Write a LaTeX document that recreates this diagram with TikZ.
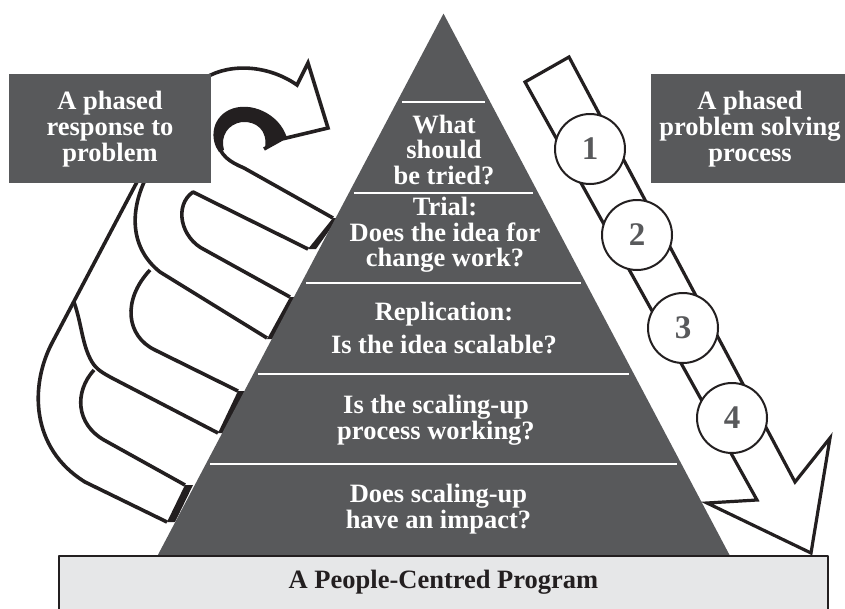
\documentclass[tikz,border=0pt]{standalone}
\usepackage{fontspec}
\setmainfont{Liberation Serif}
\definecolor{dg}{HTML}{58595B}
\definecolor{lg}{HTML}{E6E7E8}
\definecolor{ink}{HTML}{231F20}
\begin{document}
\begin{tikzpicture}[x=1pt,y=-1pt,line join=round,
  coil/.style={draw=ink,line width=3.6pt},
  endcap/.style={fill=ink},
  rarrow/.style={draw=ink,fill=white,line width=3.2pt,line join=miter},
  stepnum/.style={circle,draw=ink,fill=white,line width=2pt,minimum size=70pt,inner sep=0pt,text=dg,font=\fontsize{33}{33}\selectfont\bfseries},
  boxtext/.style={text=white,align=center,font=\fontsize{26.5}{26}\selectfont\bfseries,inner sep=0pt},
  ptext/.style={text=white,align=center,font=\fontsize{26.5}{25.5}\selectfont\bfseries,inner sep=0pt},
  sepline/.style={draw=white,line width=2pt},
  basetext/.style={text=ink,font=\fontsize{26.5}{26}\selectfont\bfseries,inner sep=0pt},
]
\useasboundingbox (0,0) rectangle (845,608);
\fill[white] (0,0) rectangle (845,608);

% right arrow with numbered steps
\draw[rarrow] (525,82) -- (569,57) -- (795,482) -- (830,438) -- (811,553) -- (707,503) -- (757,500) -- cycle;
\node[stepnum] (c1) at (590,149) {1};
\node[stepnum] (c2) at (637,235) {2};
\node[stepnum] (c3) at (683,328) {3};
\node[stepnum] (c4) at (732,418) {4};

% left coil: black ends of the stripes at the pyramid
\fill[endcap] (333,218) -- (308,249) -- (316,249) -- (338,218) -- cycle;
\fill[endcap] (290,297) -- (267,339) -- (273,339) -- (296,297) -- cycle;
\fill[endcap] (238,391) -- (218,433) -- (224,433) -- (245,391) -- cycle;
\fill[endcap] (185,485) -- (167,522) -- (175,522) -- (193,485) -- cycle;
% outer edge
\draw[coil] (138,180) -- (52,343) .. controls (30,385) and (30,448) .. (85,482) -- (167,522);
% stripe 4 top / fold 3
\draw[coil] (185,485) -- (104,440) .. controls (76,424) and (74,392) .. (94,370);
% stripe 3 bottom
\draw[coil] (74,302) .. controls (82,325) and (82,345) .. (92,362) .. controls (97,370) and (103,373) .. (112,378) -- (218,433);
% stripe 3 top / fold 2
\draw[coil] (238,391) -- (155,350) .. controls (126,336) and (122,300) .. (150,270);
% stripe 2 bottom
\draw[coil] (145,180) .. controls (130,212) and (130,248) .. (160,272) -- (267,338);
% stripe 2 top / fold 1 / stripe 1 bottom
\draw[coil] (290,297) -- (205,250) .. controls (180,238) and (174,205) .. (193,192) -- (308,249);
% stripe 1 top
\draw[coil] (217,140) .. controls (220,156) and (230,162) .. (244,168) -- (333,218);
% curled arrow on top
\draw[coil,line join=miter] (205,78) .. controls (232,62) and (270,66) .. (297,85) -- (308,63) -- (328,128) -- (282,139) -- (264,149);
\fill[ink] (287,138) .. controls (280,114) and (250,100) .. (229,110) .. controls (211,119) and (210,140) .. (219,152) -- (224,150) .. controls (220,136) and (228,124) .. (242,122) .. controls (256,121) and (268,130) .. (265,148) -- cycle;

% side boxes
\fill[dg] (9,74) rectangle (211,182.5);
\node[boxtext] (lbox) at (110,129) {A phased\\response to\\problem};
\fill[dg] (651,74) rectangle (845,182.5);
\node[boxtext] (rbox) at (750,129) {A phased\\problem solving\\process};

% pyramid
\fill[dg] (443.5,13.6) -- (729.8,555.5) -- (157.6,555.5) -- cycle;
\draw[sepline] (402,101.6) -- (485,101.6);
\draw[sepline] (353.8,192.7) -- (533.2,192.7);
\draw[sepline] (306.1,283) -- (580.9,283);
\draw[sepline] (257.9,374.2) -- (629.1,374.2);
\draw[sepline] (210.3,464.1) -- (676.7,464.1);
\node[ptext] (t1) at (444,149.5) {What\\should\\be tried?};
\node[ptext] (t2) at (445,235) {Trial:\\Does the idea for\\change work?};
\node[ptext] (t3) at (444,328) {Replication:\\[7pt]Is the idea scalable?};
\node[ptext] (t4) at (436,420) {Is the scaling-up\\process working?};
\node[ptext] (t5) at (438.5,509) {Does scaling-up\\have an impact?};

% base
\draw[draw=ink,fill=lg,line width=1.5pt] (59,556) rectangle (828,615);
\node[basetext] (base) at (443.5,582) {A People-Centred Program};
\end{tikzpicture}
\end{document}
